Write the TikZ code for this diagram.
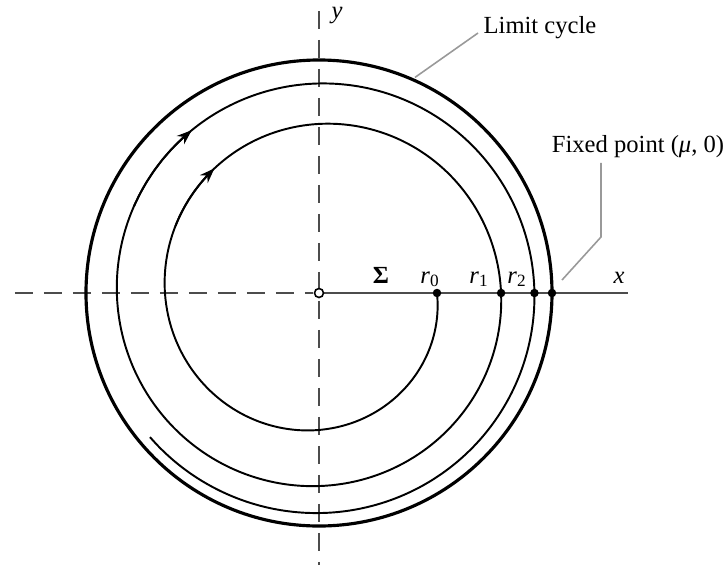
\documentclass[tikz,border=0pt]{standalone}
\usepackage{fontspec}
\setmainfont{Liberation Serif}
\usetikzlibrary{arrows.meta, positioning, calc}

\begin{document}
\begin{tikzpicture}[
        x=0.02cm, y=0.02cm,
        font=\fontsize{14}{16}\selectfont,
        axis/.style={draw=black!70, line width=1.1pt},
        dashaxis/.style={axis, dash pattern=on 0.36cm off 0.22cm},
        orbit/.style={line width=1.1pt},
        limcycle/.style={line width=1.8pt},
        leader/.style={draw=black!40, line width=0.9pt},
        fixpt/.style={circle, fill=black, inner sep=0pt, minimum size=0.17cm},
        origin/.style={circle, draw=black, fill=white, line width=0.9pt, inner sep=0pt, minimum size=0.18cm},
        tag/.style={anchor=base, inner sep=3pt},
        tip/.style={-{Stealth[length=0.3cm, width=0.22cm]}},
        declare function={orbitr(\s)=233-115*exp(-0.1917*\s-0.00963*\s*\s);}
    ]
    \useasboundingbox (-319,-276) rectangle (407,293);

    % Axes
    \draw[dashaxis] (-304,0) -- (-6,0);
    \draw[dashaxis] (0,282) -- (0,-272);
    \draw[axis] (0,0) -- (309,0);

    % Limit cycle and spiral
    \draw[limcycle] (0,0) circle (233);
    \draw[orbit] plot[domain=0:8.6, samples=300, smooth] ({-100*\x}:{orbitr(\x)});
    \foreach \a/\b in {2.05/2.3, 5.65/5.92}
        \draw[orbit, tip] plot[domain=\a:\b, samples=8] ({-100*\x}:{orbitr(\x)});

    % Points on the section
    \node[origin] (o) at (0,0) {};
    \node[fixpt] (p0) at ({orbitr(0)},0) {};
    \node[fixpt] (p1) at ({orbitr(3.6)},0) {};
    \node[fixpt] (p2) at ({orbitr(7.2)},0) {};
    \node[fixpt] (pmu) at (233,0) {};

    % Labels
    \node[tag] (sig) at (62,10) {\textbf{Σ}};
    \node[tag] (lr0) at (111,10) {\textit{r}\textsubscript{0}};
    \node[tag] (lr1) at (160,10) {\textit{r}\textsubscript{1}};
    \node[tag] (lr2) at (198,10) {\textit{r}\textsubscript{2}};
    \node[tag] (lx) at (300,10) {\textit{x}};
    \node[tag] (ly) at (18,275) {\textit{y}};
    \node[tag] (lc) at (221,260) {Limit cycle};
    \node[tag] (fp) at (319,141) {Fixed point (\textit{μ}, 0)};

    % Leaders
    \coordinate (lcpt) at (66:236);
    \coordinate (fpknee) at (282,56);
    \coordinate (fppt) at (243,13);
    \draw[leader] (lc.base west) -- (lcpt);
    \draw[leader] (fpknee |- fp.south) -- (fpknee) -- (fppt);

\end{tikzpicture}
\end{document}
